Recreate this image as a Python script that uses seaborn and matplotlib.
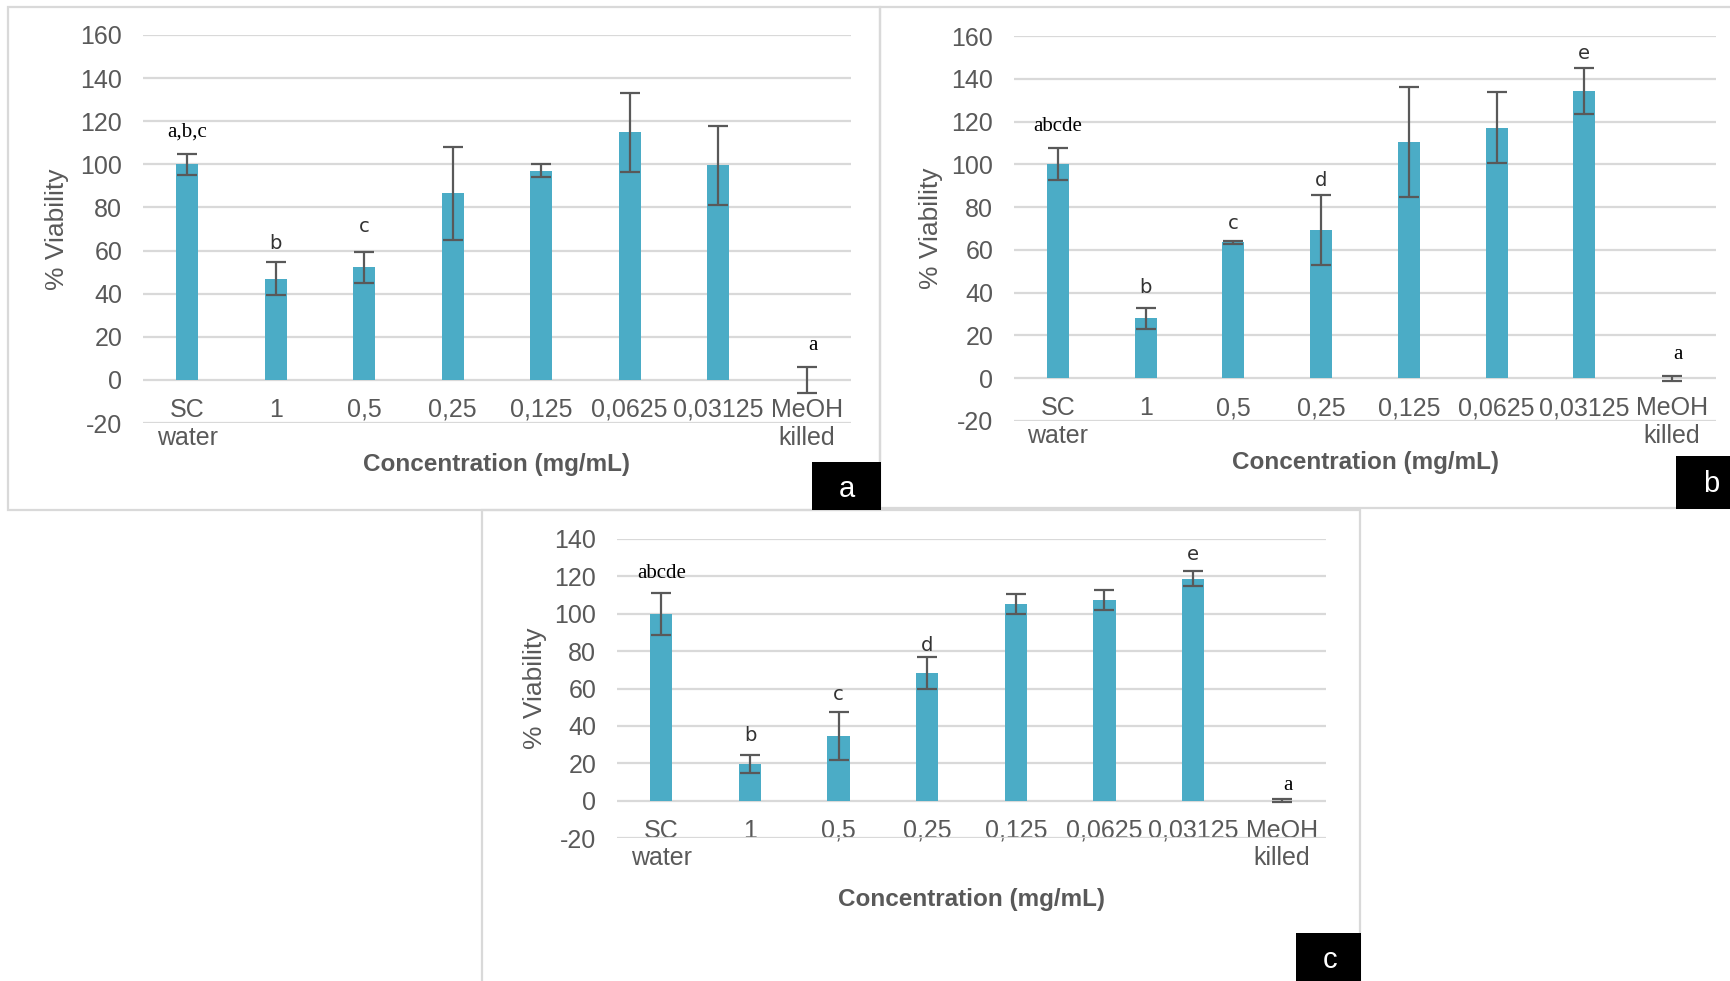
import numpy as np
import pandas as pd
import seaborn as sns
import matplotlib
matplotlib.use("Agg")
import matplotlib.pyplot as plt
from matplotlib.patches import Rectangle

# ---------------- data ----------------
categories = ["SC\nwater", "1", "0,5", "0,25", "0,125", "0,0625", "0,03125", "MeOH\nkilled"]

a_values = [100, 47, 52.2, 86.6, 97.1, 114.8, 99.6, 0]
a_errors = [5, 7.5, 7.2, 21.6, 2.9, 18.4, 18.3, 6]
a_letters = ["a,b,c", "b", "c", "", "", "", "", "a"]
a_letter_y = [115, 63.4, 71.2, 0, 0, 0, 0, 15.8]

b_values = [100, 28, 63.5, 69.3, 110.4, 117.1, 134.1, 0]
b_errors = [7.5, 4.8, 0.7, 16.2, 25.8, 16.7, 10.8, 1.1]
b_letters = ["abcde", "b", "c", "d", "", "", "e", "a"]
b_letter_y = [117.7, 42.6, 72.5, 92.5, 0, 0, 151.7, 11.1]

c_values = [100, 19.7, 34.7, 68.3, 105, 107.4, 118.8, 0]
c_errors = [11.2, 4.7, 12.7, 8.5, 5.4, 5.3, 3.9, 1.0]
c_letters = ["abcde", "b", "c", "d", "", "", "e", "a"]
c_letter_y = [121.4, 34.8, 56.6, 83, 0, 0, 131.6, 8.2]

y_label = "% Viability"
x_label = "Concentration (mg/mL)"
panel_tags = ["a", "b", "c"]

# ---------------- style ----------------
sns.set_style("white")
plt.rcParams["font.family"] = ["Liberation Sans", "DejaVu Sans"]
plt.rcParams["axes.unicode_minus"] = False

W, H = 1731, 981
fig = plt.figure(figsize=(W / 100, H / 100), dpi=100)
fig.patch.set_facecolor("white")

BAR = "#4BACC6"
GRAY = "#595959"
GRID = "#D9D9D9"


def fx(x):
    return x / W


def fy(y):
    return 1 - y / H


def rect_px(x0, y0, x1, y1, **kw):
    fig.patches.append(Rectangle((fx(x0), fy(y1)), fx(x1) - fx(x0), fy(y0) - fy(y1),
                                 transform=fig.transFigure, figure=fig, **kw))


# panel frames
rect_px(8, 7, 880, 510, fill=False, edgecolor=GRID, lw=1.6)
rect_px(880, 7, 1740, 508, fill=False, edgecolor=GRID, lw=1.6)
rect_px(482, 510, 1360, 990, fill=False, edgecolor=GRID, lw=1.6)


def panel(box, ymax, values, errors, letters, letter_y, ylab_x, xlab_y):
    x0, x1, ytop, ybot = box
    ax = fig.add_axes([fx(x0), fy(ybot), fx(x1) - fx(x0), fy(ytop) - fy(ybot)])
    df = pd.DataFrame({"cat": categories, "val": values})
    sns.barplot(data=df, x="cat", y="val", order=categories, color=BAR,
                saturation=1, width=0.25, linewidth=0, ax=ax, zorder=2)
    xs = np.arange(len(categories))
    ax.errorbar(xs, values, yerr=errors, fmt="none", ecolor=GRAY,
                elinewidth=1.6, capsize=7, capthick=1.6, zorder=3)
    for xi, (lt, ly) in enumerate(zip(letters, letter_y)):
        if not lt:
            continue
        if lt in ("a,b,c", "abcde", "a"):
            ax.text(xi + (0.07 if xi == 7 else 0), ly, lt, ha="center", va="center",
                    fontsize=15, family=["Liberation Serif", "DejaVu Serif"], color="black")
        else:
            ax.text(xi, ly, lt, ha="center", va="center", fontsize=14,
                    family=["DejaVu Sans"], color="#333333")
    ax.set_xlim(-0.5, len(categories) - 0.5)
    ax.set_ylim(-20, ymax)
    ax.set_yticks(np.arange(-20, ymax + 1, 20))
    ax.grid(axis="y", color=GRID, lw=1.6)
    ax.grid(axis="x", visible=False)
    ax.set_axisbelow(True)
    for s in ax.spines.values():
        s.set_visible(False)
    ax.spines["bottom"].set_position(("data", 0))
    ax.tick_params(axis="both", length=0, labelsize=18, labelcolor=GRAY)
    ax.tick_params(axis="y", pad=15)
    ax.tick_params(axis="x", pad=13)
    ax.set_ylabel(y_label, fontsize=19, color=GRAY)
    ax.yaxis.set_label_coords(ylab_x, 0.5)
    ax.yaxis.label.set_va("center")
    ax.set_xlabel(x_label, fontsize=17.5, fontweight="bold", color=GRAY)
    ax.xaxis.set_label_coords(0.5, xlab_y)
    ax.xaxis.label.set_va("center")
    ax.set_facecolor("none")
    return ax


panel((143, 851, 35, 423), 160, a_values, a_errors, a_letters, a_letter_y, -0.1215, -0.106)
panel((1014, 1716, 36, 421), 160, b_values, b_errors, b_letters, b_letter_y, -0.118, -0.109)
panel((617, 1326, 539, 838), 140, c_values, c_errors, c_letters, c_letter_y, -0.116, -0.207)

# black tag boxes
for (bx0, by0, bx1, by1, tx, ty), tag in zip(
        [(812, 462, 881, 510, 847, 489), (1676, 456, 1731, 509, 1711, 484),
         (1296, 933, 1361, 981, 1330, 960)], panel_tags):
    rect_px(bx0, by0, bx1, by1, facecolor="black", edgecolor="none")
    fig.text(fx(tx), fy(ty), tag, color="white", fontsize=21, ha="center", va="center")

fig.savefig("out.png", dpi=100, facecolor="white")
